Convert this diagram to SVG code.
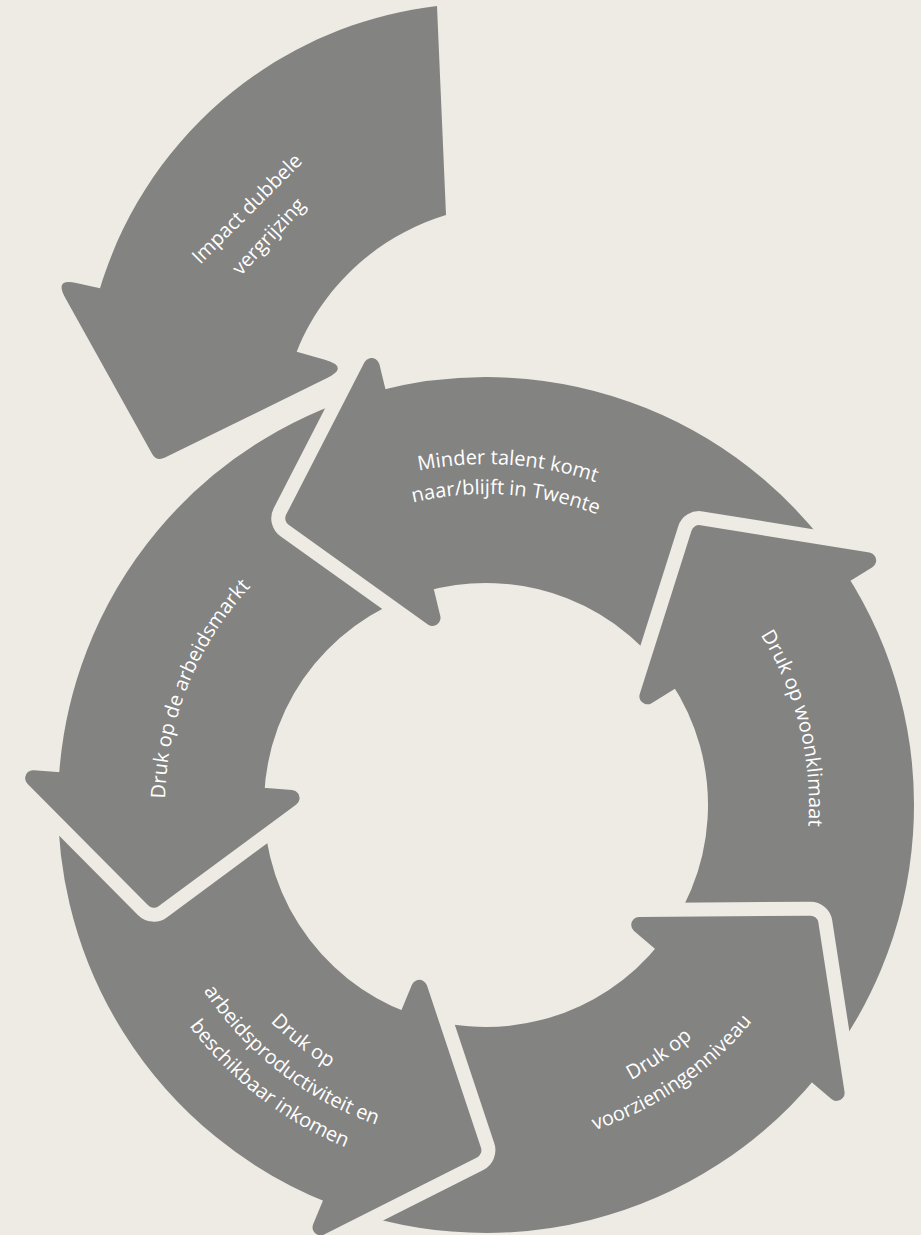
<svg xmlns="http://www.w3.org/2000/svg" xmlns:xlink="http://www.w3.org/1999/xlink" width="921" height="1235" viewBox="0 0 921 1235">
<style>
.arr{fill:#838382;stroke:#838382;stroke-width:16;stroke-linejoin:round}
.gap{fill:#000;stroke:#000;stroke-width:44;stroke-linejoin:round}
.lbl{font-family:"Open Sans","Liberation Sans",sans-serif;font-size:20px;fill:#ffffff}
</style>
<defs>
<path id="arr" d="M129.79 399.44 A420 420 0 0 0 419.92 -8 L453.6 -8 L324 -119.9 L194.4 -8 L229.86 -8 A230 230 0 0 1 71.07 218.74 Z"/>
<path id="t341" d="M-339.7 -29.72 A341 341 0 0 1 339.7 -29.72"/>
<path id="t311" d="M-309.82 -27.11 A311 311 0 0 1 309.82 -27.11"/>
<path id="t323" d="M-321.77 -28.15 A323 323 0 0 1 321.77 -28.15"/>
<path id="t321" d="M-319.78 -27.98 A321 321 0 0 1 319.78 -27.98"/>
<path id="b306" d="M-304.83 26.67 A306 306 0 0 0 304.83 26.67"/>
<path id="b338" d="M-336.71 29.46 A338 338 0 0 0 336.71 29.46"/>
<path id="b370" d="M-368.59 32.25 A370 370 0 0 0 368.59 32.25"/>
<path id="b311" d="M-309.82 27.11 A311 311 0 0 0 309.82 27.11"/>
<path id="b343" d="M-341.69 29.9 A343 343 0 0 0 341.69 29.9"/>
<mask id="mW" maskUnits="userSpaceOnUse" x="0" y="0" width="921" height="1235"><rect width="921" height="1235" fill="#fff"/><use href="#arr" class="gap" transform="translate(486 805) rotate(40.4)"/></mask>
<mask id="mM" maskUnits="userSpaceOnUse" x="0" y="0" width="921" height="1235"><rect width="921" height="1235" fill="#fff"/><use href="#arr" class="gap" transform="translate(486 805) rotate(-31.6)"/></mask>
<mask id="mA" maskUnits="userSpaceOnUse" x="0" y="0" width="921" height="1235"><rect width="921" height="1235" fill="#fff"/><use href="#arr" class="gap" transform="translate(486 805) rotate(-103.6)"/></mask>
<mask id="mP" maskUnits="userSpaceOnUse" x="0" y="0" width="921" height="1235"><rect width="921" height="1235" fill="#fff"/><use href="#arr" class="gap" transform="translate(486 805) rotate(-175.6)"/></mask>
<mask id="mV" maskUnits="userSpaceOnUse" x="0" y="0" width="921" height="1235"><rect width="921" height="1235" fill="#fff"/><use href="#arr" class="gap" transform="translate(486 805) rotate(112.4)"/></mask>
</defs>
<rect width="921" height="1235" fill="#EEEBE4"/>
<g id="node-impact">
<path fill="#838382" d="M437 6 C278.7 24.6 146.4 135.5 100 288.3 L76.2 282.9 Q54.2 278 65.2 297.7 L151.9 453.4 Q156.5 461.7 165 457.5 L326.6 378.3 Q349.9 366.9 324.9 359.7 L296.7 351.7 C323.1 285.9 378.1 235.6 446 215 Z"/>
<text class="lbl" text-anchor="middle" transform="translate(251.7 213.5) rotate(-45)">Impact dubbele</text>
<text class="lbl" text-anchor="middle" transform="translate(273.4 241) rotate(-47)">vergrijzing</text>
</g>
<g id="node-minder">
<g mask="url(#mM)"><use href="#arr" class="arr" transform="translate(486 805) rotate(-103.6)"/></g>
<text class="lbl" text-anchor="middle" transform="translate(486 805) rotate(3.7)"><textPath href="#t341" startOffset="50%">Minder talent komt</textPath></text>
<text class="lbl" text-anchor="middle" transform="translate(486 805) rotate(3.7)"><textPath href="#t311" startOffset="50%">naar/blijft in Twente</textPath></text>
</g>
<g id="node-woonklimaat">
<g mask="url(#mW)"><use href="#arr" class="arr" transform="translate(486 805) rotate(-31.6)"/></g>
<text class="lbl" text-anchor="middle" transform="translate(486 805) rotate(76)"><textPath href="#t323" startOffset="50%">Druk op woonklimaat</textPath></text>
</g>
<g id="node-voorzieningen">
<g mask="url(#mV)"><use href="#arr" class="arr" transform="translate(486 805) rotate(40.4)"/></g>
<text class="lbl" text-anchor="middle" transform="translate(486 805) rotate(-34.7)"><textPath href="#b311" startOffset="50%">Druk op</textPath></text>
<text class="lbl" text-anchor="middle" transform="translate(486 805) rotate(-34.7)"><textPath href="#b343" startOffset="50%">voorzieningenniveau</textPath></text>
</g>
<g id="node-productiviteit">
<g mask="url(#mP)"><use href="#arr" class="arr" transform="translate(486 805) rotate(112.4)"/></g>
<text class="lbl" text-anchor="middle" transform="translate(486 805) rotate(37.8)"><textPath href="#b306" startOffset="50%">Druk op</textPath></text>
<text class="lbl" text-anchor="middle" transform="translate(486 805) rotate(37.8)"><textPath href="#b338" startOffset="50%">arbeidsproductiviteit en</textPath></text>
<text class="lbl" text-anchor="middle" transform="translate(486 805) rotate(37.8)"><textPath href="#b370" startOffset="50%">beschikbaar inkomen</textPath></text>
</g>
<g id="node-arbeidsmarkt">
<g mask="url(#mA)"><use href="#arr" class="arr" transform="translate(486 805) rotate(-175.6)"/></g>
<text class="lbl" text-anchor="middle" transform="translate(486 805) rotate(292)"><textPath href="#t321" startOffset="50%">Druk op de arbeidsmarkt</textPath></text>
</g>
<g id="connectors"></g>
</svg>
